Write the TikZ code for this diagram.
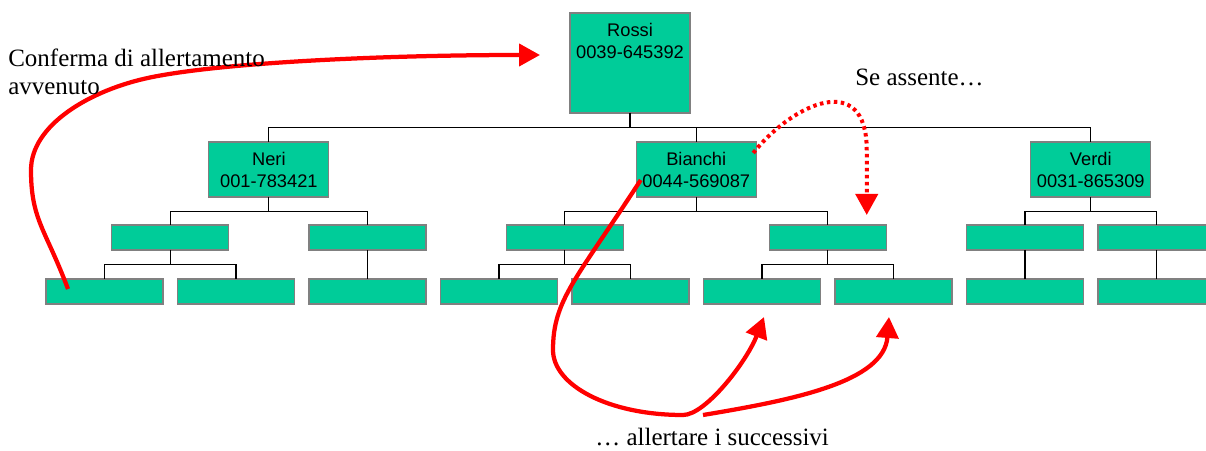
\documentclass[tikz,border=0pt]{standalone}
\usepackage{fontspec}
\setmainfont{Liberation Serif}
\newfontfamily\boxfont{Liberation Sans}
\usetikzlibrary{positioning,calc,arrows.meta}
\definecolor{boxgreen}{RGB}{0,204,153}
\definecolor{boxedge}{RGB}{128,128,128}

\begin{document}
\begin{tikzpicture}[tree box/.style={rectangle, draw=boxedge, line width=0.6pt, fill=boxgreen, minimum width=2.4cm, minimum height=1.1cm, inner sep=0pt, outer sep=0pt, align=center, font=\boxfont\fontsize{10.4}{12.5}\selectfont},
                    tree leaf/.style={tree box, minimum width=2.34cm, minimum height=0.5cm},
                    tree line/.style={draw=black, line width=0.7pt},
                    alert arrow/.style={draw=red, line width=0.085cm, -{Triangle[length=0.42cm, width=0.44cm]}},
                    alert dotted/.style={alert arrow, line width=0.08cm, dash pattern=on 0.07cm off 0.07cm},
                    note/.style={font=\fontsize{14.2}{16.4}\selectfont, inner sep=0pt, align=left}]

    \useasboundingbox (0,0) rectangle (24.12,9);

    % bottom row
    \node [tree leaf] (l1) at (2.09,3.17) {};
    \node [tree leaf, right=0.29cm of l1] (l2) {};
    \node [tree leaf, right=0.29cm of l2] (l3) {};
    \node [tree leaf, right=0.29cm of l3] (l4) {};
    \node [tree leaf, right=0.29cm of l4] (l5) {};
    \node [tree leaf, right=0.29cm of l5] (l6) {};
    \node [tree leaf, right=0.29cm of l6] (l7) {};
    \node [tree leaf, right=0.29cm of l7] (l8) {};
    \node [tree leaf, right=0.29cm of l8] (l9) {};

    % middle row
    \node [tree leaf] (m1) at ($(l1)!0.5!(l2)+(0,1.08)$) {};
    \node [tree leaf, above=0.58cm of l3] (m2) {};
    \node [tree leaf] (m3) at ($(l4)!0.5!(l5)+(0,1.08)$) {};
    \node [tree leaf] (m4) at ($(l6)!0.5!(l7)+(0,1.08)$) {};
    \node [tree leaf, above=0.58cm of l8] (m5) {};
    \node [tree leaf, above=0.58cm of l9] (m6) {};

    % people
    \node [tree box] (neri) at ($(m1)!0.5!(m2)+(0,1.36)$) {Neri\\001-783421};
    \node [tree box] (bianchi) at ($(m3)!0.5!(m4)+(0,1.36)$) {Bianchi\\0044-569087};
    \node [tree box] (verdi) at ($(m5)!0.5!(m6)+(0,1.36)$) {Verdi\\0031-865309};
    \node [tree box, minimum height=2cm,
           label={[anchor=north, yshift=-0.09cm, align=center, font=\boxfont\fontsize{10.4}{12.5}\selectfont]north:{Rossi\\0039-645392}}] (rossi) at (12.6,7.74) {};

    \foreach \p/\c in {rossi/neri, rossi/bianchi, rossi/verdi, neri/m1, neri/m2, bianchi/m3, bianchi/m4, verdi/m5, verdi/m6,
                       m1/l1, m1/l2, m2/l3, m3/l4, m3/l5, m4/l6, m4/l7, m5/l8, m6/l9}
        \draw [tree line] (\p.south) -- ++(0,-0.29) -| (\c.north);

    % red arrows
    \coordinate (fork) at (14.06,0.7);
    \draw [alert arrow] ([shift={(-0.73,0.05)}]l1.center) .. controls +(-0.45,1.2) and +(0,-1.0) .. (0.62,5.6)
          .. controls +(0,0.9) and +(-1.2,-0.25) .. (3.0,7.45)
          .. controls +(1.5,0.31) and +(-3,0) .. ([shift={(-0.6,0.16)}]rossi.west);
    \draw [alert dotted] ([shift={(-0.06,0.33)}]bianchi.east) .. controls +(0.8,1.0) and +(0,1.6) .. ($(m4.north)+(0.78,1.5)$)
          -- ($(m4.north)+(0.78,0.2)$);
    \draw [alert arrow] ([shift={(0.09,-0.21)}]bianchi.west) .. controls +(-1.3,-2.0) and +(0,1.0) .. (11.06,2.0)
          .. controls +(0,-0.7) and +(-1.5,0) .. (13.66,0.7)
          .. controls +(0.45,0) and +(-0.35,-0.9) .. ([shift={(0.04,-0.26)}]l6.south);
    \draw [alert arrow] (fork) .. controls +(1.8,0.3) and +(-0.1,-1.3) .. ([shift={(-0.09,-0.26)}]l7.south);

    \node [note, anchor=base west] (confirm) at (0.16,7.10) {Conferma di allertamento\\avvenuto};
    \node [note, anchor=base west] (absent) at (17.1,7.28) {Se assente…};
    \node [note, anchor=base west] (successors) at (11.9,0.1) {… allertare i successivi};

\end{tikzpicture}
\end{document}
